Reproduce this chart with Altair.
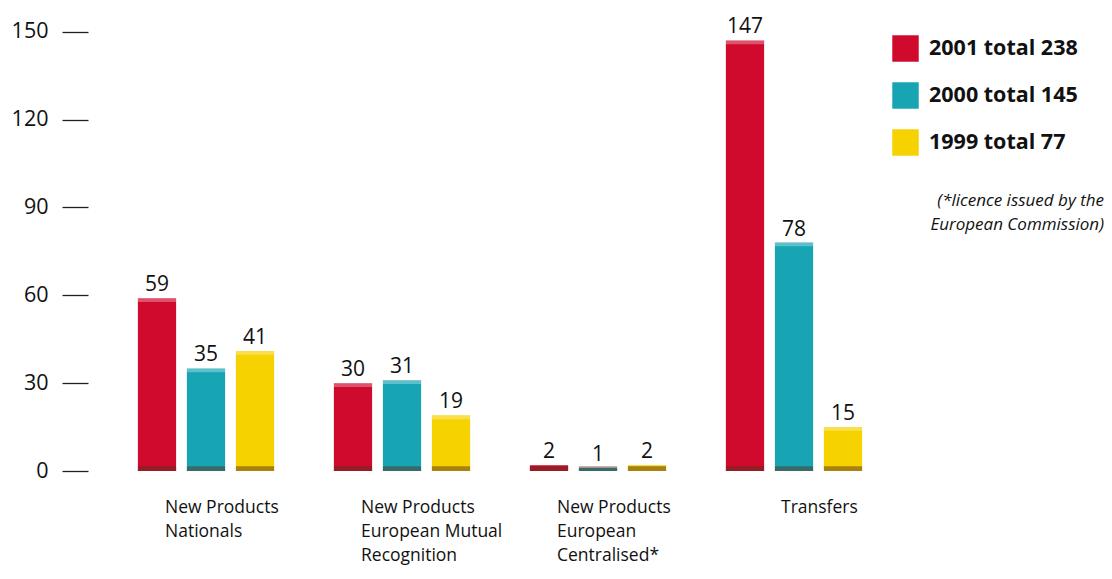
import altair as alt
import pandas as pd

categories = [
    "New Products\nNationals",
    "New Products\nEuropean Mutual\nRecognition",
    "New Products\nEuropean\nCentralised*",
    "Transfers",
]
years = ["2001", "2000", "1999"]
values_2001 = [59, 30, 2, 147]
values_2000 = [35, 31, 1, 78]
values_1999 = [41, 19, 2, 15]
colors = ["#cf0a2c", "#17a5b4", "#f6d200"]
y_ticks = [0, 30, 60, 90, 120, 150]
footnote = "(*licence issued by the\nEuropean Commission)"

FONT = "Open Sans"

rows = []
legend_order = []
for year, vals in zip(years, [values_2001, values_2000, values_1999]):
    lab = f"{year} total {sum(vals)}"
    legend_order.append(lab)
    for c, v in zip(categories, vals):
        rows.append({"category": c, "series": lab, "value": v})
df = pd.DataFrame(rows)

x_enc = alt.X(
    "category:N",
    sort=categories,
    scale=alt.Scale(paddingInner=0.25, paddingOuter=0.125),
    axis=alt.Axis(
        title=None,
        domain=False,
        ticks=False,
        labelAlign="left",
        labelBaseline="top",
        labelOffset={"condition": {"test": "datum.value == 'Transfers'", "value": -13}, "value": -41},
        labelPadding=27,
        labelFontSize=17.5,
        labelLineHeight=24,
        labelColor="#111111",
        labelFont=FONT,
        labelLimit=400,
        labelOverlap=False,
        labelAngle=0,
        labelExpr="split(datum.label, '\\n')",
    ),
)
xo_enc = alt.XOffset(
    "series:N",
    sort=legend_order,
    scale=alt.Scale(paddingInner=0.22, paddingOuter=0.11),
)
y_scale = alt.Scale(domain=[0, 155], nice=False)

bars = alt.Chart(df).mark_bar().encode(
    x=x_enc,
    xOffset=xo_enc,
    y=alt.Y(
        "value:Q",
        scale=y_scale,
        axis=alt.Axis(
            title=None,
            values=y_ticks,
            domain=False,
            grid=False,
            offset=20,
            tickSize=26,
            tickWidth=1.3,
            tickColor="#222222",
            labelFontSize=21.5,
            labelPadding=14,
            labelColor="#111111",
            labelFont=FONT,
        ),
    ),
    color=alt.Color(
        "series:N",
        sort=legend_order,
        scale=alt.Scale(domain=legend_order, range=colors),
        legend=alt.Legend(
            orient="none",
            legendX=784,
            legendY=18,
            title=None,
            symbolType="square",
            symbolSize=700,
            symbolStrokeWidth=0,
            symbolOpacity=1,
            labelFontSize=21.5,
            labelFontWeight="bold",
            labelFont=FONT,
            labelColor="#111111",
            labelOffset=10,
            rowPadding=20,
            labelLimit=300,
        ),
    ),
)

caps = alt.Chart(df).transform_filter("datum.value > 5").transform_calculate(
    top2="datum.value - 1.3"
).mark_bar(color="white", opacity=0.3).encode(
    x=x_enc, xOffset=xo_enc, y=alt.Y("value:Q", scale=y_scale), y2="top2:Q"
)

bases = alt.Chart(df).mark_bar(color="#5a3020", opacity=0.5).encode(
    x=x_enc, xOffset=xo_enc, y=alt.datum(0, scale=y_scale), y2=alt.datum(1.6)
)

labels = alt.Chart(df).mark_text(
    baseline="alphabetic", dy=-7, fontSize=21, font=FONT, color="#111111"
).encode(
    x=x_enc, xOffset=xo_enc, y=alt.Y("value:Q", scale=y_scale), text="value:Q"
)

note = alt.Chart(pd.DataFrame({"t": [footnote]})).mark_text(
    align="right",
    baseline="top",
    fontStyle="italic",
    fontSize=17,
    lineHeight=24,
    lineBreak="\n",
    font=FONT,
    color="#111111",
).encode(x=alt.value(996), y=alt.value(176), text="t:N")

chart = alt.layer(bars, caps, bases, labels, note).properties(
    width=784,
    height=454,
    autosize=alt.AutoSizeParams(type="none"),
    padding={"left": 100, "top": 9, "right": 212, "bottom": 95},
).configure(font=FONT).configure_view(stroke=None)

chart.save("out.html", embed_options={"renderer": "svg", "actions": False})
